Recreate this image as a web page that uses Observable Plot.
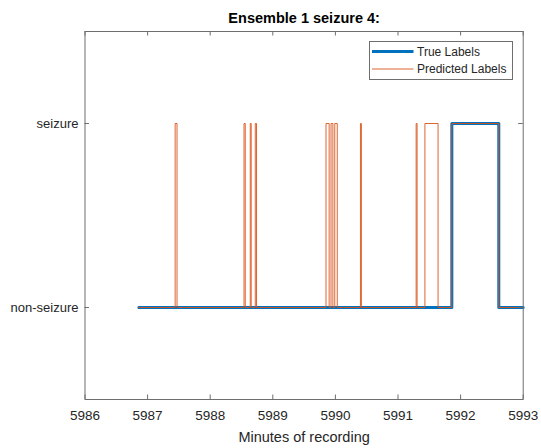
<!DOCTYPE html>
<html>
<head>
<meta charset="utf-8">
<script src="https://cdn.jsdelivr.net/npm/d3@7"></script>
<script src="https://cdn.jsdelivr.net/npm/@observablehq/plot@0.6"></script>
<style>
  body { margin: 0; background: #fff; }
  #wrap { position: relative; width: 541px; height: 448px; font-family: "Liberation Sans", Arial, sans-serif; }
  #legend { position: absolute; left: 369px; top: 41px; }
</style>
</head>
<body>
<div id="wrap"></div>
<script>
const titleText = "Ensemble 1 seizure 4:";
const xLabelText = "Minutes of recording";
const xTicks = [5986, 5987, 5988, 5989, 5990, 5991, 5992, 5993];
const yTicks = [0, 1];
const yTickLabels = ["non-seizure", "seizure"];
const seriesNames = ["True Labels", "Predicted Labels"];

const trueTimes  = [5986.86, 5991.86, 5992.61, 5993.00];
const trueLabels = [0, 1, 0, 0];

const predTimes = [5986.86, 5987.44, 5987.47, 5988.54, 5988.56, 5988.64, 5988.655, 5988.72, 5988.74,
                   5989.85, 5989.90, 5989.93, 5989.96, 5989.99, 5990.03, 5990.40, 5990.415,
                   5991.29, 5991.305, 5991.43, 5991.64, 5991.86, 5992.61, 5993.00];
const predLabels = [0, 1, 0, 1, 0, 1, 0, 1, 0,
                    1, 0, 1, 0, 1, 0, 1, 0,
                    1, 0, 1, 0, 1, 0, 0];

const trueData = trueTimes.map((t, i) => ({t, v: trueLabels[i]}));
const predData = predTimes.map((t, i) => ({t, v: predLabels[i]}));

const W = 541, H = 448, mL = 84.5, mR = 18.3, mT = 31, mB = 49;
const frameW = W - mL - mR, frameH = H - mT - mB;
const ink = "#262626", boxColor = "#6e6e6e", tickLen = 4.5;
const blue = "#0072BD", orange = "#D95319";

const chart = Plot.plot({
  width: W, height: H,
  marginLeft: mL, marginRight: mR, marginTop: mT, marginBottom: mB,
  style: {fontFamily: "'Liberation Sans', Arial, sans-serif", fontSize: "13px", color: ink, background: "#fff"},
  x: {domain: [5986, 5993]},
  y: {domain: [-0.5, 1.5]},
  marks: [
    Plot.line(trueData, {x: "t", y: "v", curve: "step-after", stroke: blue, strokeWidth: 3}),
    Plot.line(predData, {x: "t", y: "v", curve: "step-after", stroke: orange, strokeWidth: 0.9}),
    Plot.frame({stroke: boxColor, strokeWidth: 1}),
    Plot.tickX(xTicks, {x: d => d, insetTop: frameH - tickLen, stroke: boxColor}),
    Plot.tickX(xTicks, {x: d => d, insetBottom: frameH - tickLen, stroke: boxColor}),
    Plot.tickY(yTicks, {y: d => d, insetRight: frameW - tickLen, stroke: boxColor}),
    Plot.tickY(yTicks, {y: d => d, insetLeft: frameW - tickLen, stroke: boxColor}),
    Plot.axisX({ticks: xTicks, tickFormat: d => String(d), tickSize: 0, tickPadding: 11, label: null, fontSize: 13.5, fill: ink}),
    Plot.axisY({ticks: yTicks, tickFormat: d => yTickLabels[d], tickSize: 0, tickPadding: 6.5, label: null, fontSize: 13, fill: ink}),
    Plot.text([titleText], {frameAnchor: "top", dy: -13, fontSize: 14.5, fontWeight: "bold", fill: "#000", lineAnchor: "middle"}),
    Plot.text([xLabelText], {frameAnchor: "bottom", dy: 37.5, fontSize: 14.5, fill: ink, lineAnchor: "middle"})
  ]
});
document.getElementById("wrap").appendChild(chart);

// Legend (MATLAB style box)
const lg = d3.select("#wrap").append("svg").attr("id", "legend")
  .attr("width", 144).attr("height", 40);
lg.append("rect").attr("x", 0.5).attr("y", 0.5).attr("width", 143).attr("height", 38)
  .attr("fill", "#fff").attr("stroke", boxColor);
const rows = [{name: seriesNames[0], color: blue, w: 3, cy: 10.5}, {name: seriesNames[1], color: orange, w: 0.9, cy: 28}];
rows.forEach(r => {
  lg.append("line").attr("x1", 3).attr("x2", 44.5).attr("y1", r.cy).attr("y2", r.cy)
    .attr("stroke", r.color).attr("stroke-width", r.w);
  lg.append("text").attr("x", 48).attr("y", r.cy + 4.3).text(r.name)
    .attr("font-family", "'Liberation Sans', Arial, sans-serif").attr("font-size", 12).attr("fill", ink);
});
</script>
</body>
</html>
